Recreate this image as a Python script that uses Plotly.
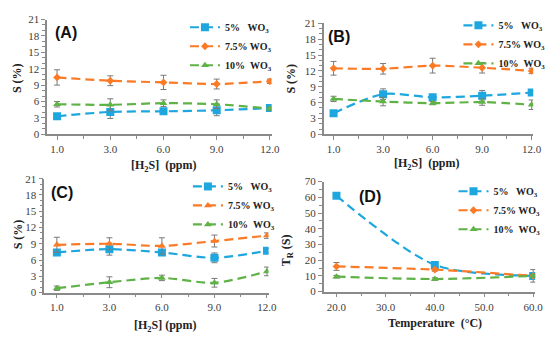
import plotly.graph_objects as go

W, H = 554, 341

# ---------------- data ----------------
conc_labels = ["1.0", "3.0", "6.0", "9.0", "12.0"]
series_names = ["5%&nbsp;&nbsp;&nbsp;WO<sub>3</sub>", "7.5% WO<sub>3</sub>", "10%&nbsp;&nbsp;WO<sub>3</sub>"]

# Panel A
a_5 = [3.3, 4.1, 4.2, 4.4, 4.8]
a_5_err = [0.3, 1.2, 0.4, 1.0, 0.5]
a_75 = [10.4, 9.8, 9.5, 9.2, 9.7]
a_75_err = [1.4, 0.9, 1.3, 0.9, 0.4]
a_10 = [5.5, 5.4, 5.7, 5.5, 4.7]
a_10_err = [0.5, 1.1, 0.6, 0.8, 0.3]

# Panel B
b_5 = [4.0, 7.6, 7.0, 7.3, 7.9]
b_5_err = [0.3, 1.0, 0.4, 1.0, 0.3]
b_75 = [12.5, 12.4, 13.0, 12.6, 12.0]
b_75_err = [1.3, 1.0, 1.4, 1.0, 0.5]
b_10 = [6.7, 6.2, 5.9, 6.1, 5.6]
b_10_err = [0.5, 0.8, 0.3, 0.6, 0.9]

# Panel C
c_5 = [7.4, 8.0, 7.4, 6.4, 7.7]
c_5_err = [0.3, 1.1, 0.4, 0.9, 0.4]
c_75 = [8.8, 9.0, 8.6, 9.5, 10.5]
c_75_err = [1.4, 1.1, 1.5, 1.1, 0.5]
c_10 = [0.8, 1.9, 2.7, 1.8, 3.9]
c_10_err = [0.4, 1.0, 0.5, 0.8, 0.8]

# Panel D
temps = [20, 40, 60]
d_5 = [61, 17, 10]
d_5_err = [1.0, 1.5, 4.0]
d_75 = [16, 14, 10]
d_75_err = [2.5, 1.0, 1.0]
d_10 = [9.5, 8, 10]
d_10_err = [0.8, 0.8, 1.0]

temp_ticks = [20, 30, 40, 50, 60]
temp_ticktext = ["20.0", "30.0", "40.0", "50.0", "60.0"]

# ---------------- styles ----------------
BLUE = "#1EA7DE"
ORANGE = "#FA7A25"
GREEN = "#5FB346"
AXIS = "#8a8a8a"
SERIF = "Liberation Serif"
SANS = "Liberation Sans"


def px_x(p):
    return p / W


def px_y(p):
    return 1 - p / H


fig = go.Figure()

cat_idx = list(range(len(conc_labels)))


def add_series(xs, ys, errs, color, symbol, size, name, xa, ya, legend):
    fig.add_trace(go.Scatter(
        x=xs, y=ys, mode="lines+markers", name=name,
        line=dict(color=color, width=2.2, dash="9px,5px", shape="spline", smoothing=0.8),
        marker=dict(color=color, symbol=symbol, size=size),
        error_y=dict(type="data", array=errs, color="#7a7a7a", thickness=1, width=3),
        xaxis=xa, yaxis=ya, legend=legend, showlegend=True,
    ))


panels = [
    ("x", "y", "legend", [(a_5, a_5_err), (a_75, a_75_err), (a_10, a_10_err)], ["square", "diamond", "triangle-up"]),
    ("x2", "y2", "legend2", [(b_5, b_5_err), (b_75, b_75_err), (b_10, b_10_err)], ["square", "diamond", "triangle-up"]),
    ("x3", "y3", "legend3", [(c_5, c_5_err), (c_75, c_75_err), (c_10, c_10_err)], ["square", "triangle-up", "triangle-up"]),
]
colors = [BLUE, ORANGE, GREEN]
sizes = {"square": 8, "diamond": 6, "triangle-up": 7}

for xa, ya, lg, data, syms in panels:
    for (vals, errs), col, sym, nm in zip(data, colors, syms, series_names):
        add_series(cat_idx, vals, errs, col, sym, sizes[sym], nm, xa, ya, lg)

for (vals, errs), col, sym, nm in zip([(d_5, d_5_err), (d_75, d_75_err), (d_10, d_10_err)],
                                       colors, ["square", "diamond", "triangle-up"], series_names):
    add_series(temps, vals, errs, col, sym, sizes[sym], nm, "x4", "y4", "legend4")

tickfont = dict(family=SERIF, size=11, color="#404040")


def xaxis_cat(domain, anchor, rng):
    return dict(domain=domain, anchor=anchor, range=rng, tickmode="array",
                tickvals=cat_idx, ticktext=conc_labels, showline=True, linecolor=AXIS,
                linewidth=1.5, ticks="outside", tickcolor=AXIS, ticklen=4, tickfont=tickfont,
                showgrid=False, zeroline=False,
                minor=dict(ticks="outside", dtick=0.5, tick0=0, ticklen=3, tickcolor=AXIS))


def yaxis_s(domain, anchor):
    return dict(domain=domain, anchor=anchor, range=[0, 21], dtick=3, tick0=0,
                showline=True, linecolor=AXIS, linewidth=1.5, ticks="outside",
                tickcolor=AXIS, ticklen=4, tickfont=tickfont, showgrid=False, zeroline=False,
                minor=dict(ticks="outside", dtick=1, ticklen=3, tickcolor=AXIS))


fig.update_layout(
    width=W, height=H, autosize=False,
    font=dict(family=SERIF, size=11, color="#404040"),
    margin=dict(l=0, r=0, t=0, b=0),
    paper_bgcolor="white", plot_bgcolor="white",
    xaxis=xaxis_cat([px_x(48), px_x(276)], "y", [-0.185, 4.03]),
    yaxis=yaxis_s([px_y(133), px_y(14)], "x"),
    xaxis2=xaxis_cat([px_x(329), px_x(542)], "y2", [-0.2, 4.03]),
    yaxis2=yaxis_s([px_y(133), px_y(18)], "x2"),
    xaxis3=xaxis_cat([px_x(45), px_x(273)], "y3", [-0.24, 4.03]),
    yaxis3=yaxis_s([px_y(297), px_y(179)], "x3"),
    xaxis4=dict(domain=[px_x(329), px_x(544)], anchor="y4", range=[17.4, 60.4],
                tickmode="array", tickvals=temp_ticks, ticktext=temp_ticktext,
                showline=True, linecolor=AXIS, linewidth=1.5, ticks="outside", tickcolor=AXIS,
                ticklen=4, tickfont=tickfont, showgrid=False, zeroline=False,
                minor=dict(ticks="outside", dtick=5, tick0=0, ticklen=3, tickcolor=AXIS)),
    yaxis4=dict(domain=[px_y(296), px_y(182)], anchor="x4", range=[0, 70], dtick=10,
                showline=True, linecolor=AXIS, linewidth=1.5, ticks="outside", tickcolor=AXIS,
                ticklen=4, tickfont=tickfont, showgrid=False, zeroline=False,
                minor=dict(ticks="outside", dtick=5, ticklen=3, tickcolor=AXIS)),
)

legend_style = dict(font=dict(family=SERIF, size=10, color="#222", weight="bold"),
                    bgcolor="rgba(255,255,255,0)",
                    borderwidth=0, itemwidth=30, tracegroupgap=0,
                    xanchor="left", yanchor="top", itemclick=False)
fig.update_layout(
    legend=dict(x=px_x(188), y=px_y(7), **legend_style),
    legend2=dict(x=px_x(466), y=px_y(5), **legend_style),
    legend3=dict(x=px_x(191), y=px_y(172), **legend_style),
    legend4=dict(x=px_x(461), y=px_y(177), **legend_style),
)

annots = []
# panel labels
for txt, x, y in [("(A)", 67, 27), ("(B)", 345, 32), ("(C)", 63, 193), ("(D)", 376, 197)]:
    annots.append(dict(text="<b>" + txt + "</b>", x=px_x(x), y=px_y(y), xref="paper", yref="paper",
                       showarrow=False, font=dict(family=SANS, size=16, color="#111"),
                       xanchor="center", yanchor="middle"))
# y titles
for txt, x, y in [("<b>S (%)</b>", 18, 75), ("<b>S (%)</b>", 296, 75), ("<b>S (%)</b>", 18, 237),
                  ("<b>T<sub>R</sub> (S)</b>", 292, 253)]:
    annots.append(dict(text=txt, x=px_x(x), y=px_y(y), xref="paper", yref="paper", showarrow=False,
                       textangle=-90, font=dict(family=SERIF, size=12, color="#222"),
                       xanchor="center", yanchor="middle"))
# x titles
for txt, x, y in [("<b>[H<sub>2</sub>S]&nbsp;&nbsp;(ppm)</b>", 167, 166),
                  ("<b>[H<sub>2</sub>S]&nbsp;&nbsp;(ppm)</b>", 434, 164),
                  ("<b>[H<sub>2</sub>S] (ppm)</b>", 168, 332),
                  ("<b>Temperature&nbsp;&nbsp;(°C)</b>", 442, 329)]:
    annots.append(dict(text=txt, x=px_x(x), y=px_y(y), xref="paper", yref="paper", showarrow=False,
                       font=dict(family=SERIF, size=12, color="#222"),
                       xanchor="center", yanchor="middle"))
fig.update_layout(annotations=annots)

fig.write_html("out.html")
